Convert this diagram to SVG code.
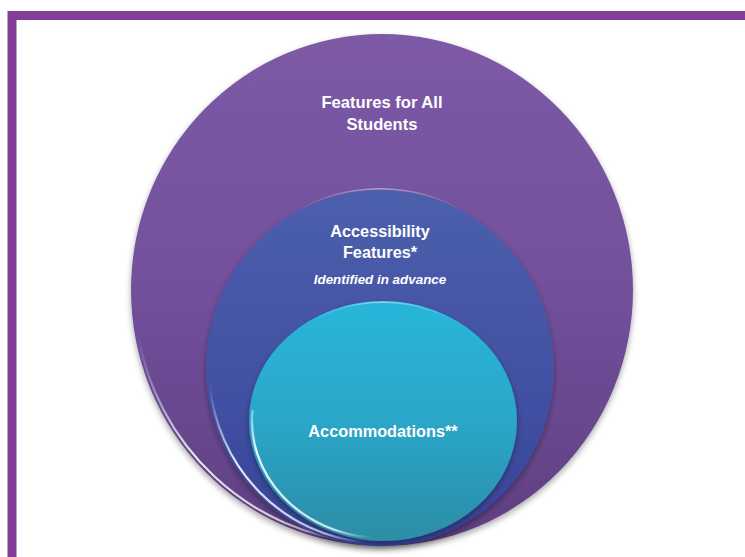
<svg xmlns="http://www.w3.org/2000/svg" width="745" height="557" viewBox="0 0 745 557">
  <defs>
    <linearGradient id="gPurple" x1="0" y1="0" x2="0" y2="1">
      <stop offset="0" stop-color="#7C5AA6"/>
      <stop offset="0.5" stop-color="#72509C"/>
      <stop offset="1" stop-color="#5E3F80"/>
    </linearGradient>
    <linearGradient id="gBlue" x1="0" y1="0" x2="0" y2="1">
      <stop offset="0" stop-color="#4C5FAD"/>
      <stop offset="0.6" stop-color="#4150A1"/>
      <stop offset="1" stop-color="#36439A"/>
    </linearGradient>
    <linearGradient id="gTeal" x1="0" y1="0" x2="0" y2="1">
      <stop offset="0" stop-color="#28B6DA"/>
      <stop offset="0.5" stop-color="#2AA6C9"/>
      <stop offset="1" stop-color="#2D8DA6"/>
    </linearGradient>
    <linearGradient id="hlP" gradientUnits="userSpaceOnUse" x1="137" y1="334" x2="360" y2="542">
      <stop offset="0" stop-color="#FFFFFF" stop-opacity="0"/>
      <stop offset="0.4" stop-color="#FFFFFF" stop-opacity="0.85"/>
      <stop offset="0.85" stop-color="#FFFFFF" stop-opacity="0.7"/>
      <stop offset="1" stop-color="#FFFFFF" stop-opacity="0"/>
    </linearGradient>
    <linearGradient id="hlB" gradientUnits="userSpaceOnUse" x1="209" y1="383" x2="365" y2="542">
      <stop offset="0" stop-color="#FFFFFF" stop-opacity="0"/>
      <stop offset="0.35" stop-color="#FFFFFF" stop-opacity="0.9"/>
      <stop offset="0.85" stop-color="#FFFFFF" stop-opacity="0.7"/>
      <stop offset="1" stop-color="#FFFFFF" stop-opacity="0"/>
    </linearGradient>
    <linearGradient id="hlT" gradientUnits="userSpaceOnUse" x1="252" y1="380" x2="371" y2="538">
      <stop offset="0" stop-color="#FFFFFF" stop-opacity="0"/>
      <stop offset="0.3" stop-color="#FFFFFF" stop-opacity="0.9"/>
      <stop offset="0.85" stop-color="#FFFFFF" stop-opacity="0.75"/>
      <stop offset="1" stop-color="#FFFFFF" stop-opacity="0"/>
    </linearGradient>
    <linearGradient id="hlTop" x1="0" y1="0" x2="1" y2="0">
      <stop offset="0" stop-color="#FFFFFF" stop-opacity="0"/>
      <stop offset="0.5" stop-color="#FFFFFF" stop-opacity="0.45"/>
      <stop offset="1" stop-color="#FFFFFF" stop-opacity="0"/>
    </linearGradient>
    <filter id="shadow" x="-20%" y="-20%" width="140%" height="140%">
      <feGaussianBlur in="SourceAlpha" stdDeviation="3"/>
      <feOffset dx="0" dy="3" result="b"/>
      <feComponentTransfer><feFuncA type="linear" slope="0.35"/></feComponentTransfer>
      <feMerge><feMergeNode/><feMergeNode in="SourceGraphic"/></feMerge>
    </filter>
  </defs>
  <style>
    .frame { fill: none; stroke: #813F97; stroke-width: 9; }
    .hl { fill: none; stroke-width: 2.2; stroke-linecap: round; }
    .hlTop { fill: none; stroke: url(#hlTop); stroke-width: 1.5; stroke-linecap: round; }
    .lbl { font-family: "Liberation Sans", Arial, sans-serif; font-weight: bold; fill: #FFFFFF; text-anchor: middle; }
    .sub { font-family: "Liberation Sans", Arial, sans-serif; font-weight: bold; font-style: italic; fill: #FFFFFF; text-anchor: middle; }
  </style>
  <rect x="0" y="0" width="745" height="557" fill="#FFFFFF"/>
  <rect class="frame" x="12" y="15.5" width="760" height="580"/>

  <g id="node-all-students">
    <ellipse cx="382" cy="290" rx="251" ry="256" fill="url(#gPurple)" filter="url(#shadow)"/>
    <path class="hl" stroke="url(#hlP)" d="M 137.7 334 A 248 253 0 0 0 360.4 542"/>
    <path class="hlTop" d="M 250 70 A 248 253 0 0 1 514 70"/>
    <text class="lbl" x="382" y="108" font-size="16.6">Features for All</text>
    <text class="lbl" x="382" y="130" font-size="16.6">Students</text>
  </g>

  <g id="node-accessibility">
    <ellipse cx="380" cy="368" rx="174" ry="178" fill="url(#gBlue)" filter="url(#shadow)"/>
    <path class="hl" stroke="url(#hlB)" d="M 209.7 383.2 A 171 175 0 0 0 365.1 542.3"/>
    <path class="hlTop" d="M 290 215 A 171 175 0 0 1 470 215"/>
    <text class="lbl" x="380" y="237" font-size="16.3">Accessibility</text>
    <text class="lbl" x="380" y="258" font-size="16.3">Features*</text>
    <text class="sub" x="380" y="284" font-size="13.4">Identified in advance</text>
  </g>

  <g id="node-accommodations">
    <ellipse cx="383" cy="421" rx="134" ry="120" fill="url(#gTeal)" filter="url(#shadow)"/>
    <path class="hl" stroke="url(#hlT)" d="M 252.5 410.8 A 131 117 0 0 0 371.6 537.6"/>
    <path class="hlTop" d="M 310 322 A 131 117 0 0 1 456 322"/>
    <text class="lbl" x="383" y="437" font-size="16.3">Accommodations**</text>
  </g>

  <g id="connectors"></g>
</svg>
